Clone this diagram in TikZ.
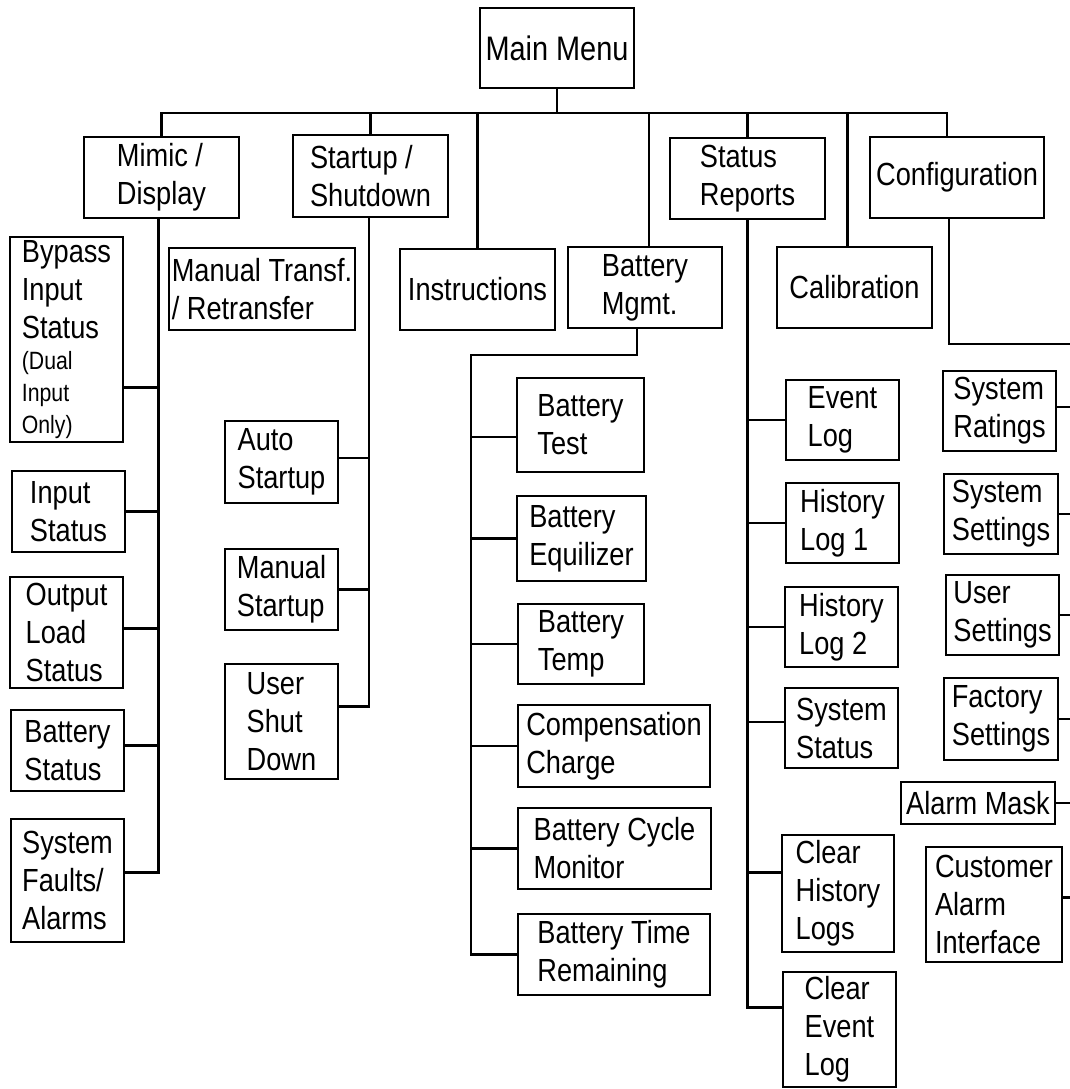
\documentclass[tikz,border=0pt]{standalone}
\usepackage{fontspec}
\setmainfont{Liberation Sans}[FakeStretch=0.85]
\newcommand{\menufont}{\fontsize{32}{38}\selectfont}
\newcommand{\notefont}{\fontsize{25}{32}\selectfont}
\newcommand{\topfont}{\fontsize{34}{40}\selectfont}
\tikzset{item/.style 2 args={draw, align=left, inner sep=0pt, font=\menufont,
                             minimum width=#1, minimum height=#2}}

\begin{document}
\begin{tikzpicture}[x=1pt, y=-1pt, line width=2.9pt]
\useasboundingbox (0,0) rectangle (1070,1089);

\node[item={154pt}{80pt}, font=\topfont] (main) at (557,48) {Main Menu};

\node[item={155pt}{81pt}] (mimic)   at (161.5,177.5) {Mimic /\\Display};
\node[item={155pt}{82pt}] (startup) at (370.5,176)   {Startup /\\Shutdown};
\node[item={155pt}{81pt}] (instr)   at (477.5,289.5) {Instructions};
\node[item={154pt}{81pt}] (batmgmt) at (645,287.5)   {Battery\\Mgmt.};
\node[item={155pt}{81pt}] (status)  at (747.5,178.5) {Status\\Reports};
\node[item={155pt}{81pt}] (calib)   at (854.5,287.5) {Calibration};
\node[item={174pt}{81pt}] (config)  at (957,177.5)   {Configuration};
\node[item={186pt}{82pt}] (transf)  at (262,289)     {Manual Transf.\\/ Retransfer};

\node[item={113pt}{205pt}] (bypass)  at (66.5,339.5)
  {Bypass\\Input\\Status\\[-7pt]\notefont(Dual\\[-6pt]\notefont Input\\[-6pt]\notefont Only)};
\node[item={113pt}{81pt}]  (input)   at (68.5,511.5) {Input\\Status};
\node[item={113pt}{111pt}] (output)  at (66.5,632.5) {Output\\Load\\Status};
\node[item={113pt}{81pt}]  (batstat) at (67.5,750.5) {Battery\\Status};
\node[item={113pt}{123pt}] (faults)  at (67.5,880.5) {System\\Faults/\\Alarms};

\node[item={113pt}{82pt}]  (auto)     at (281.5,462)   {Auto\\Startup};
\node[item={113pt}{81pt}]  (manual)   at (281.5,589.5) {Manual\\Startup};
\node[item={113pt}{115pt}] (usershut) at (281.5,721.5) {User\\Shut\\Down};

\node[item={127pt}{94pt}] (battest) at (580.5,425)   {Battery\\Test};
\node[item={129pt}{85pt}] (equil)   at (581.5,538.5) {Battery\\Equilizer};
\node[item={126pt}{80pt}] (temp)    at (581,644)     {Battery\\Temp};
\node[item={192pt}{82pt}] (comp)    at (614,746)     {Compensation\\Charge};
\node[item={193pt}{81pt}] (cycle)   at (614.5,848.5) {Battery Cycle\\Monitor};
\node[item={192pt}{81pt}] (timerem) at (614,954.5)   {Battery Time\\Remaining};

\node[item={113pt}{80pt}]  (event)    at (842.5,420)  {Event\\Log};
\node[item={113pt}{80pt}]  (hist1)    at (842.5,523)  {History\\Log 1};
\node[item={113pt}{80pt}]  (hist2)    at (841.5,627)  {History\\Log 2};
\node[item={113pt}{80pt}]  (sysstat)  at (841.5,728)  {System\\Status};
\node[item={112pt}{117pt}] (clrhist)  at (838,893.5)  {Clear\\History\\Logs};
\node[item={113pt}{115pt}] (clrevent) at (839.5,1029.5) {Clear\\Event\\Log};

\node[item={113pt}{80pt}]  (ratings)   at (999.5,411) {System\\Ratings};
\node[item={114pt}{80pt}]  (sysset)    at (1001,514)  {System\\Settings};
\node[item={113pt}{80pt}]  (userset)   at (1002.5,615) {User\\Settings};
\node[item={114pt}{82pt}]  (factory)   at (1001,719)  {Factory\\Settings};
\node[item={154pt}{42pt}]  (alarmmask) at (978,803)   {Alarm Mask};
\node[item={136pt}{115pt}] (customer)  at (994,904.5) {Customer\\Alarm\\Interface};

% top level
\coordinate (bus) at (559,113);
\draw (mimic.north) |- ([xshift=-10pt]config.north |- bus) -- ([xshift=-10pt]config.north);
\draw (main.south) -- (main.south |- bus);
\draw (startup.north) -- (startup.north |- bus);
\draw (instr.north) -- (instr.north |- bus);
\draw ([xshift=4pt]batmgmt.north) -- ([xshift=4pt]batmgmt.north |- bus);
\draw (status.north) -- (status.north |- bus);
\draw ([xshift=-7pt]calib.north) -- ([xshift=-7pt]calib.north |- bus);

% mimic / display
\coordinate (mimicdn) at ([xshift=-3pt]mimic.south);
\draw (mimicdn) |- ([yshift=8pt]faults.east);
\draw ([yshift=-48pt]bypass.east) -- ([yshift=-48pt]bypass.east -| mimicdn);
\draw (input.east) -- (input.east -| mimicdn);
\draw ([yshift=4pt]output.east) -- ([yshift=4pt]output.east -| mimicdn);
\draw ([yshift=5pt]batstat.east) -- ([yshift=5pt]batstat.east -| mimicdn);

% startup / shutdown
\coordinate (startdn) at ([xshift=-1.5pt]startup.south);
\draw (startdn) |- ([yshift=15pt]usershut.east);
\draw ([yshift=4pt]auto.east) -- ([yshift=4pt]auto.east -| startdn);
\draw (manual.east) -- (manual.east -| startdn);

% battery mgmt
\coordinate (batknee) at (471,355);
\draw ([xshift=-8pt]batmgmt.south) |- (batknee) |- (timerem.west);
\draw ([yshift=-12pt]battest.west) -- ([yshift=-12pt]battest.west -| batknee);
\draw (equil.west) -- (equil.west -| batknee);
\draw (temp.west) -- (temp.west -| batknee);
\draw (comp.west) -- (comp.west -| batknee);
\draw (cycle.west) -- (cycle.west -| batknee);

% status reports
\draw (status.south) |- ([yshift=22pt]clrevent.west);
\draw (event.west) -- (event.west -| status.south);
\draw (hist1.west) -- (hist1.west -| status.south);
\draw (hist2.west) -- (hist2.west -| status.south);
\draw ([yshift=6pt]sysstat.west) -- ([yshift=6pt]sysstat.west -| status.south);
\draw ([yshift=21pt]clrhist.west) -- ([yshift=21pt]clrhist.west -| status.south);

% configuration
\coordinate (cfgedge) at (1070,344);
\draw ([xshift=-8pt]config.south) |- (cfgedge);
\draw ([yshift=4pt]ratings.east) -- ([yshift=4pt]ratings.east -| cfgedge);
\draw (sysset.east) -- (sysset.east -| cfgedge);
\draw (userset.east) -- (userset.east -| cfgedge);
\draw (factory.east) -- (factory.east -| cfgedge);
\draw (alarmmask.east) -- (alarmmask.east -| cfgedge);
\draw ([yshift=7pt]customer.east) -- ([yshift=7pt]customer.east -| cfgedge);
\end{tikzpicture}
\end{document}
